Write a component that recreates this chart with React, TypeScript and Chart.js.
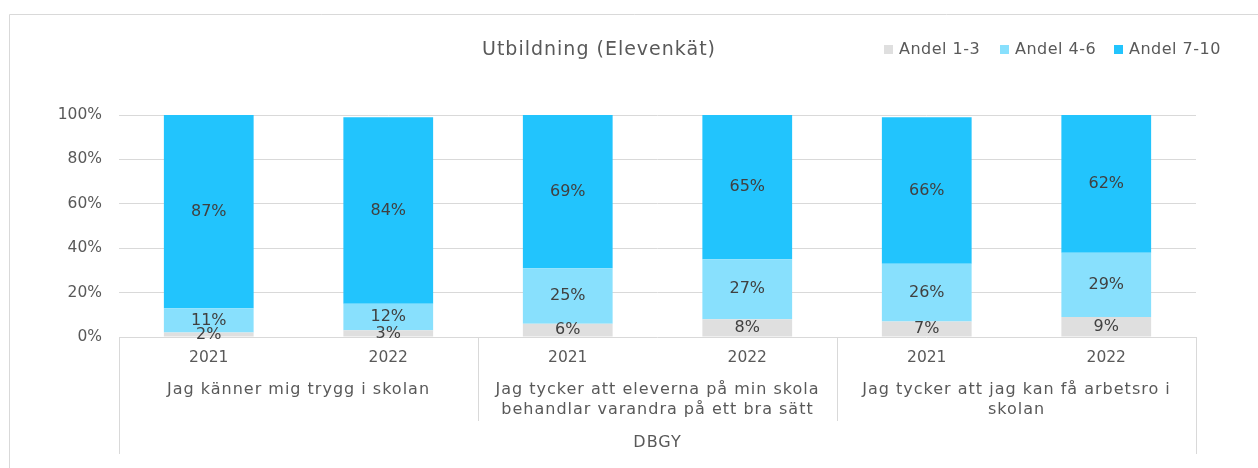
import React, { useEffect, useRef } from "react";
import { Chart, registerables } from "chart.js";

Chart.register(...registerables);

const years = ["2021", "2022", "2021", "2022", "2021", "2022"];
const groupLabels = [
  ["Jag känner mig trygg i skolan"],
  ["Jag tycker att eleverna på min skola", "behandlar varandra på ett bra sätt"],
  ["Jag tycker att jag kan få arbetsro i", "skolan"],
];
const outerLabel = "DBGY";
const chartTitle = "Utbildning (Elevenkät)";
const seriesNames = ["Andel 1-3", "Andel 4-6", "Andel 7-10"];
const andel13 = [2, 3, 6, 8, 7, 9];
const andel46 = [11, 12, 25, 27, 26, 29];
const andel710 = [87, 84, 69, 65, 66, 62];
const yTicks = [0, 20, 40, 60, 80, 100];
const seriesColors = ["#dfdfdf", "#88e0fd", "#22c4fd"];

const FONT = "'DejaVu Sans', sans-serif";
const TEXT = "#595959";

const overlayPlugin = {
  id: "overlay",
  afterDraw(chart: any) {
    const ctx = chart.ctx as any;
    const area = chart.chartArea;
    const x = chart.scales.x;
    ctx.save();
    // outer frame
    ctx.strokeStyle = "#d9d9d9";
    ctx.lineWidth = 1;
    ctx.beginPath();
    ctx.moveTo(9.5, 470);
    ctx.lineTo(9.5, 14.5);
    ctx.lineTo(1260, 14.5);
    ctx.stroke();

    // title
    ctx.fillStyle = TEXT;
    ctx.font = `19px ${FONT}`;
    ctx.letterSpacing = "1px";
    ctx.textAlign = "center";
    ctx.textBaseline = "middle";
    ctx.fillText(chartTitle, 599, 50);

    // legend
    ctx.font = `16px ${FONT}`;
    ctx.letterSpacing = "0.5px";
    ctx.textAlign = "left";
    const legendX = [884, 1000, 1114];
    chart.data.datasets.forEach((ds: any, i: number) => {
      ctx.fillStyle = ds.backgroundColor;
      ctx.fillRect(legendX[i], 45, 9, 9);
      ctx.fillStyle = TEXT;
      ctx.fillText(ds.label, legendX[i] + 15, 50);
    });

    // data labels
    ctx.font = `16px ${FONT}`;
    ctx.letterSpacing = "0px";
    ctx.textAlign = "center";
    ctx.fillStyle = "#404040";
    chart.data.datasets.forEach((ds: any, i: number) => {
      const meta = chart.getDatasetMeta(i);
      meta.data.forEach((bar: any, j: number) => {
        const cy = (bar.y + bar.base) / 2;
        ctx.fillText(ds.data[j] + "%", bar.x, cy);
      });
    });

    // multi-level axis
    const bottom = area.bottom;
    ctx.strokeStyle = "#d9d9d9";
    ctx.lineWidth = 1;
    const bounds = [-0.5, 1.5, 3.5, 5.5];
    bounds.forEach((b, i) => {
      const px = Math.round(x.getPixelForValue(b)) + 0.5;
      const end = i === 0 || i === bounds.length - 1 ? 454 : 421;
      ctx.beginPath();
      ctx.moveTo(px, bottom);
      ctx.lineTo(px, end);
      ctx.stroke();
    });

    ctx.fillStyle = TEXT;
    ctx.font = `15.5px ${FONT}`;
    ctx.textAlign = "center";
    years.forEach((yr, i) => {
      ctx.fillText(yr, x.getPixelForValue(i), 358);
    });
    ctx.font = `16px ${FONT}`;
    ctx.letterSpacing = "1px";
    groupLabels.forEach((lines, g) => {
      const cx = (x.getPixelForValue(g * 2) + x.getPixelForValue(g * 2 + 1)) / 2;
      lines.forEach((ln, k) => {
        ctx.fillText(ln, cx, 390 + k * 20);
      });
    });
    ctx.fillText(outerLabel, (area.left + area.right) / 2, 443);
    ctx.restore();
  },
};

export default function App() {
  const ref = useRef<HTMLCanvasElement | null>(null);
  useEffect(() => {
    document.body.style.margin = "0";
    const canvas = ref.current!;
    const chart = new Chart(canvas, {
      type: "bar",
      data: {
        labels: years.map((y, i) => `${y}-${i}`),
        datasets: [
          { label: seriesNames[0], data: andel13, backgroundColor: seriesColors[0] },
          { label: seriesNames[1], data: andel46, backgroundColor: seriesColors[1] },
          { label: seriesNames[2], data: andel710, backgroundColor: seriesColors[2] },
        ],
      },
      options: {
        animation: false,
        responsive: false,
        maintainAspectRatio: false,
        datasets: { bar: { categoryPercentage: 1, barPercentage: 0.5 } },
        layout: { padding: { left: 0, right: 62, top: 115, bottom: 131 } },
        plugins: { legend: { display: false }, title: { display: false }, tooltip: { enabled: false } },
        scales: {
          x: { stacked: true, display: false },
          y: {
            stacked: true,
            min: 0,
            max: 100,
            afterFit: (s: any) => {
              s.width = 119;
            },
            afterBuildTicks: (s: any) => {
              s.ticks = yTicks.map((v) => ({ value: v }));
            },
            border: { display: false },
            grid: { color: "#d9d9d9", drawTicks: false, lineWidth: 1 },
            ticks: {
              padding: 17,
              color: TEXT,
              font: { family: FONT, size: 15.5 },
              callback: (v: any) => v + "%",
            },
          },
        },
      },
      plugins: [overlayPlugin],
    });
    return () => chart.destroy();
  }, []);
  return (
    <div style={{ width: 1258, height: 468 }}>
      <canvas ref={ref} width={1258} height={468} style={{ display: "block" }} />
    </div>
  );
}
